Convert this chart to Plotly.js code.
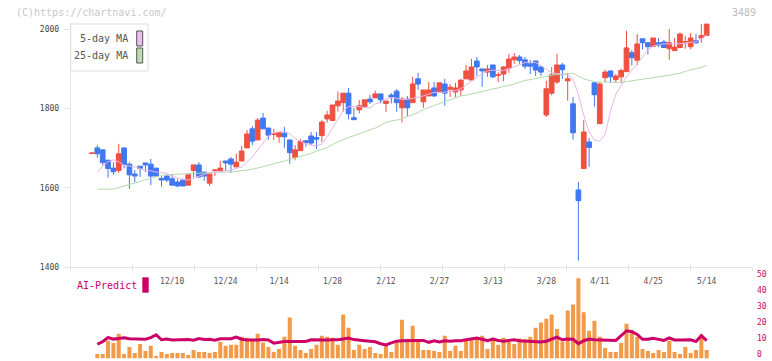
<!DOCTYPE html>
<html><head><meta charset="utf-8">
<script src="https://cdn.plot.ly/plotly-3.0.1.min.js"></script>
<style>html,body{margin:0;padding:0;background:#fff;}#chart{width:772px;height:361px;}</style>
</head><body><div id="chart"></div>
<script>
// ---- data ----
const dates = [
"2024-11-19","2024-11-20","2024-11-21","2024-11-22","2024-11-25","2024-11-26","2024-11-27","2024-11-28","2024-11-29",
"2024-12-02","2024-12-03","2024-12-04","2024-12-05","2024-12-06","2024-12-09","2024-12-10","2024-12-11","2024-12-12","2024-12-13",
"2024-12-16","2024-12-17","2024-12-18","2024-12-19","2024-12-20","2024-12-23","2024-12-24","2024-12-25","2024-12-26","2024-12-27","2024-12-30",
"2025-01-06","2025-01-07","2025-01-08","2025-01-09","2025-01-10","2025-01-14","2025-01-15","2025-01-16","2025-01-17","2025-01-20",
"2025-01-21","2025-01-22","2025-01-23","2025-01-24","2025-01-27","2025-01-28","2025-01-29","2025-01-30","2025-01-31",
"2025-02-03","2025-02-04","2025-02-05","2025-02-06","2025-02-07","2025-02-10","2025-02-12","2025-02-13","2025-02-14",
"2025-02-17","2025-02-18","2025-02-19","2025-02-20","2025-02-21","2025-02-25","2025-02-26","2025-02-27","2025-02-28",
"2025-03-03","2025-03-04","2025-03-05","2025-03-06","2025-03-07","2025-03-10","2025-03-11","2025-03-12","2025-03-13","2025-03-14",
"2025-03-17","2025-03-18","2025-03-19","2025-03-21","2025-03-24","2025-03-25","2025-03-26","2025-03-27","2025-03-28","2025-03-31",
"2025-04-01","2025-04-02","2025-04-03","2025-04-04","2025-04-07","2025-04-08","2025-04-09","2025-04-10","2025-04-11",
"2025-04-14","2025-04-15","2025-04-16","2025-04-17","2025-04-18","2025-04-21","2025-04-22","2025-04-23","2025-04-24","2025-04-25",
"2025-04-28","2025-04-30","2025-05-01","2025-05-02","2025-05-07","2025-05-08","2025-05-09","2025-05-12","2025-05-13","2025-05-14"];

const open = [1687,1701,1696,1670,1650,1644,1701,1660,1635,1655,1663,1660,1650,1624,1630,1623,1615,1620,1607,1644,
1658,1640,1612,1644,1643,1668,1673,1653,1668,1701,1749,1721,1776,1751,1735,1729,1738,1721,1677,1694,
1719,1731,1727,1732,1774,1770,1807,1815,1839,1777,1797,1804,1824,1827,1837,1813,1834,1844,1802,1824,
1815,1875,1817,1832,1852,1842,1862,1849,1842,1847,1875,1872,1920,1900,1892,1910,1884,1887,1902,1923,
1930,1923,1913,1920,1905,1784,1839,1867,1910,1870,1812,1595,1649,1716,1865,1762,1878,1895,1873,1880,
1893,1941,1922,1976,1966,1957,1966,1968,1951,1946,1954,1968,1956,1971,1978,1984];
const high = [1689,1708,1696,1670,1665,1711,1701,1665,1645,1655,1663,1673,1650,1630,1633,1633,1622,1624,1633,1658,
1665,1640,1635,1648,1668,1668,1678,1686,1706,1746,1756,1776,1789,1751,1749,1739,1754,1721,1708,1723,
1721,1741,1741,1771,1794,1809,1843,1839,1852,1802,1822,1822,1834,1845,1837,1819,1839,1849,1829,1832,
1880,1890,1847,1867,1867,1865,1875,1862,1865,1872,1910,1925,1930,1900,1910,1910,1892,1907,1938,1940,
1935,1930,1923,1920,1907,1870,1905,1938,1915,1890,1829,1615,1771,1726,1865,1866,1898,1895,1887,1901,
1996,1948,1988,1976,1966,1978,1978,1973,2001,1978,1992,1983,1991,1988,2013,2013];
const low = [1686,1676,1658,1626,1633,1638,1649,1598,1615,1628,1640,1607,1630,1603,1615,1607,1602,1605,1607,1626,
1625,1618,1605,1630,1643,1643,1638,1653,1668,1701,1708,1721,1749,1721,1721,1714,1701,1661,1670,1694,
1704,1708,1698,1716,1765,1770,1792,1792,1773,1772,1788,1804,1812,1827,1813,1792,1813,1792,1765,1780,
1815,1847,1802,1832,1829,1842,1807,1829,1829,1832,1875,1872,1882,1855,1880,1877,1867,1869,1890,1913,
1913,1900,1887,1882,1882,1779,1834,1862,1875,1820,1722,1417,1649,1653,1805,1762,1867,1865,1866,1864,
1893,1909,1910,1949,1936,1955,1955,1953,1923,1946,1954,1951,1950,1963,1966,1984];
const close = [1688,1686,1664,1649,1641,1686,1659,1633,1630,1649,1658,1630,1630,1620,1620,1607,1605,1605,1633,1658,
1628,1630,1635,1645,1650,1663,1660,1665,1693,1736,1718,1771,1749,1733,1736,1739,1729,1689,1696,1717,
1714,1713,1723,1766,1784,1809,1819,1839,1787,1772,1807,1822,1817,1837,1822,1819,1829,1815,1824,1802,
1862,1862,1847,1847,1832,1865,1839,1854,1852,1872,1895,1905,1905,1895,1900,1880,1885,1905,1925,1930,
1921,1907,1907,1897,1892,1850,1885,1910,1898,1875,1739,1568,1741,1702,1835,1862,1892,1880,1882,1896,
1953,1928,1963,1966,1956,1978,1960,1954,1966,1955,1988,1969,1978,1966,1984,2013];

const ma5 = [null,1639,1655,1666,1671,1666,1658,1655,1653,1649,1645,1643,1640,1639,1637,1629,1624,1621,1620,1625,
1629,1634,1639,1640,1641,1643,1645,1649,1653,1666,1678,1696,1713,1731,1739,1742,1742,1737,1724,1717,
1712,1708,1706,1711,1729,1751,1771,1794,1805,1805,1805,1803,1802,1812,1816,1824,1828,1826,1823,1823,
1827,1829,1832,1836,1841,1841,1841,1845,1845,1850,1860,1870,1879,1887,1895,1897,1897,1896,1900,1905,
1910,1916,1918,1916,1909,1898,1891,1888,1886,1885,1875,1835,1784,1741,1721,1718,1734,1794,1836,1858,
1880,1897,1913,1930,1948,1958,1961,1963,1963,1963,1963,1964,1967,1968,1976,1986];
const ma25 = [null,1597,1597,1597,1597,1601,1605,1609,1614,1618,1622,1626,1629,1632,1633,1634,1634,1635,1636,1637,
1637,1638,1639,1639,1640,1640,1640,1642,1643,1645,1647,1650,1654,1657,1661,1664,1668,1672,1676,1679,
1683,1687,1693,1698,1702,1710,1717,1722,1727,1732,1736,1741,1745,1751,1758,1765,1769,1771,1775,1780,
1784,1790,1798,1803,1808,1812,1817,1823,1827,1832,1834,1837,1840,1842,1846,1850,1852,1856,1858,1862,
1867,1871,1873,1876,1879,1881,1884,1886,1887,1889,1889,1882,1875,1871,1868,1867,1867,1866,1866,1866,
1868,1870,1872,1874,1876,1877,1879,1881,1884,1887,1889,1894,1897,1900,1904,1909];

const volume = [null,2.8,2.8,11.0,9.7,15.4,2.8,7.2,3.5,9.1,4.7,7.9,1.6,4.1,2.8,3.5,3.5,3.5,2.2,5.3,
4.1,4.1,3.5,4.1,10.4,7.9,8.5,8.5,13.5,12.9,11.0,15.4,9.9,7.2,4.1,6.0,13.5,25.5,7.9,5.3,
3.5,6.0,8.5,14.2,13.5,12.9,8.5,27.4,19.2,5.3,8.5,6.0,7.2,3.5,2.8,7.9,4.1,11.6,24.2,12.3,
20.4,10.4,5.3,5.3,4.7,4.1,14.2,4.7,7.9,4.7,11.0,11.6,12.3,14.2,6.0,12.9,8.5,12.9,10.4,9.1,
12.5,12.0,13.5,19.2,22.5,24.8,27.4,18.4,10.6,29.9,33.6,50.0,28.8,17.3,23.6,13.5,6.6,4.1,4.1,9.7,
21.7,17.7,13.5,6.0,4.7,3.5,5.3,4.1,11.0,4.1,2.8,7.2,3.5,5.3,14.8,5.3];
const aiPredict = [null,8.9,10.5,13.1,12.1,12.5,12.9,12.3,12.3,12.3,12.0,13.0,14.8,11.7,12.1,11.5,11.7,12.0,11.8,11.4,
12.4,11.9,12.0,11.4,12.3,12.3,12.3,13.3,12.0,11.5,11.3,11.5,11.8,11.5,9.6,10.2,10.6,10.6,10.6,10.6,
10.6,11.7,11.5,11.3,11.5,11.7,11.7,12.2,12.7,11.8,11.3,11.1,10.8,10.4,9.2,8.5,9.7,10.8,11.1,11.3,
11.3,11.3,11.3,10.1,11.1,10.3,11.1,10.8,11.1,11.1,11.7,12.2,12.7,12.0,11.1,12.1,11.2,10.8,11.2,11.7,
11.1,10.9,10.7,10.5,10.3,10.8,12.0,13.3,11.7,12.1,12.0,9.2,11.1,12.1,11.7,11.5,11.3,11.3,11.3,14.2,
17.3,16.7,15.0,12.0,12.0,12.6,12.0,11.3,12.8,11.6,11.5,11.7,11.7,10.6,14.2,11.1];

const yTicks = [1400,1600,1800,2000];
const volTicks = [0,10,20,30,40,50];
const legendNames = ["5-day MA","25-day MA"];
const codeLabel = "3489";
const watermark = "(C)https://chartnavi.com/";

// ---- build ----
const MONO = "DejaVu Sans Mono, Liberation Mono, monospace";
const RED = "#f05040", BLUE = "#4078f0";
const W = 772, H = 361;
const px = v => v / W, py = v => 1 - v / H;
const idx = dates.map((d, i) => i);
const lblIdx = idx.filter(i => i >= 15 && (i - 15) % 10 === 0);
const lblTxt = lblIdx.map(i => { const p = dates[i].split("-"); return parseInt(p[1]) + "/" + parseInt(p[2]); });

const XR = [-3.985, 123.48];
const XD = [px(70.7), px(752)];

const traces = [
  {type:"scatter", mode:"lines", x:idx, y:ma25, line:{color:"#b4d9a8", width:1}, hoverinfo:"skip", xaxis:"x", yaxis:"y"},
  {type:"scatter", mode:"lines", x:idx, y:ma5, line:{color:"#e8b4ea", width:1}, hoverinfo:"skip", xaxis:"x", yaxis:"y"},
  {type:"candlestick", x:idx, open:open, high:high, low:low, close:close, xaxis:"x", yaxis:"y",
   increasing:{line:{color:RED, width:1}, fillcolor:RED}, decreasing:{line:{color:BLUE, width:1}, fillcolor:BLUE},
   whiskerwidth:0, hoverinfo:"skip"},
  {type:"bar", x:idx, y:volume, width:0.75, marker:{color:"#f39a48", line:{width:0}}, xaxis:"x3", yaxis:"y2", hoverinfo:"skip"},
  {type:"scatter", mode:"lines", x:idx, y:aiPredict, line:{color:"#cc0066", width:3}, xaxis:"x3", yaxis:"y2", hoverinfo:"skip"},
  {type:"scatter", mode:"lines", x:[], y:[], xaxis:"x2", yaxis:"y", hoverinfo:"skip"}
];

const layout = {
  width:W, height:H, margin:{l:0,r:0,t:0,b:0}, paper_bgcolor:"#fff", plot_bgcolor:"#fff",
  showlegend:false, boxgap:0.12, boxgroupgap:0,
  xaxis:{domain:XD, range:XR, anchor:"y", showline:true, linecolor:"#e3e3e3", linewidth:1,
    ticks:"", tickvals:lblIdx, ticktext:lblTxt, tickfont:{family:MONO, size:8, color:"#555"},
    ticklabelstandoff:6, showgrid:false, zeroline:false, rangeslider:{visible:false}, fixedrange:true,
    minor:{ticks:"outside", ticklen:3, tickcolor:"#e3e3e3", tick0:XR[0], dtick:(XR[1]-XR[0])/11, showgrid:false}},
  xaxis2:{overlaying:"x", anchor:"y", side:"bottom", range:[0,11], tickvals:[0,1,2,3,4,5,6,7,8,9,10,11],
    ticks:"inside", ticklen:3, tickcolor:"#e3e3e3", showticklabels:false, showline:false, showgrid:false, zeroline:false},
  yaxis:{domain:[py(267.3), py(22.9)], range:[1400,2016], anchor:"x", showline:true, linecolor:"#e3e3e3", linewidth:1,
    ticks:"outside", ticklen:6, tickcolor:"#e3e3e3", tickvals:yTicks, tickfont:{family:MONO, size:8, color:"#444"},
    ticklabelstandoff:3, showgrid:false, zeroline:false, fixedrange:true},
  xaxis3:{domain:XD, range:XR, anchor:"y2", visible:false},
  yaxis2:{domain:[py(358.5), py(270.3)], range:[0,55], anchor:"x3", side:"right", showline:false, ticks:"",
    tickvals:volTicks, tickfont:{family:MONO, size:8, color:"#cc0066"}, showgrid:false, zeroline:false,
    ticklabelstandoff:4, ticklabelshift:-4, ticklabeloverflow:"allow"},
  shapes:[
    {type:"rect", xref:"paper", yref:"paper", x0:px(70.7), x1:px(148), y0:py(71), y1:py(24), line:{color:"#dddddd", width:1}, fillcolor:"#fff", layer:"above"},
    {type:"rect", xref:"paper", yref:"paper", x0:px(136.7), x1:px(142.7), y0:py(46), y1:py(31), line:{color:"#555", width:1}, fillcolor:"#ecbdec", layer:"above"},
    {type:"rect", xref:"paper", yref:"paper", x0:px(136.7), x1:px(142.7), y0:py(63), y1:py(48), line:{color:"#555", width:1}, fillcolor:"#bcdcb2", layer:"above"},
    {type:"rect", xref:"paper", yref:"paper", x0:px(142.3), x1:px(148.7), y0:py(292.7), y1:py(277.3), line:{width:0}, fillcolor:"#cc0066", layer:"above"}
  ],
  annotations:[
    {xref:"paper", yref:"paper", x:px(14), y:py(12.5), xanchor:"left", yanchor:"middle", text:watermark, showarrow:false, font:{family:MONO, size:10, color:"#c8c8c8"}},
    {xref:"paper", yref:"paper", x:px(758), y:py(12), xanchor:"right", yanchor:"middle", text:codeLabel, showarrow:false, font:{family:MONO, size:10, color:"#bbbbbb"}},
    {xref:"paper", yref:"paper", x:px(130), y:py(39), xanchor:"right", yanchor:"middle", text:legendNames[0], showarrow:false, font:{family:MONO, size:10, color:"#555"}},
    {xref:"paper", yref:"paper", x:px(130), y:py(56), xanchor:"right", yanchor:"middle", text:legendNames[1], showarrow:false, font:{family:MONO, size:10, color:"#555"}},
    {xref:"paper", yref:"paper", x:px(75), y:py(285.5), xanchor:"left", yanchor:"middle", text:"AI-Predict", showarrow:false, font:{family:MONO, size:10, color:"#cc0066"}}
  ]
};

Plotly.newPlot("chart", traces, layout, {staticPlot:true, displayModeBar:false});
</script>
</body></html>
